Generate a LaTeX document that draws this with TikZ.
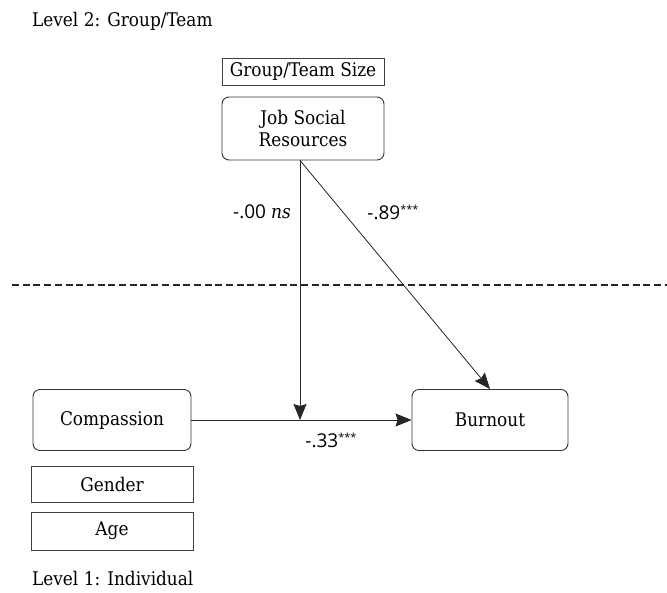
\documentclass[tikz,border=0pt]{standalone}
\usepackage{fontspec}
\setmainfont{DejaVu Serif Condensed}
\newfontfamily\numfont{Open Sans}
\usetikzlibrary{arrows.meta}
\newcommand{\sig}[1]{\raisebox{6pt}{\fontsize{11}{12}\selectfont #1}}
\begin{document}
\begin{tikzpicture}[x=1pt,y=-1pt,
  every node/.style={font=\fontsize{18.8}{22}\selectfont, inner sep=0pt},
  rbox/.style={draw=black!80, line width=0.9pt, rounded corners=7pt, align=center},
  sbox/.style={draw=black!75, line width=0.9pt},
  conn/.style={draw=black!85, line width=0.8pt, -{Stealth[length=16pt,width=13pt,inset=2pt]}},
  coef/.style={font=\numfont\fontsize{19}{22}\selectfont}]
  \useasboundingbox (0,0) rectangle (667,592);

  % level captions
  \node[anchor=west] (lv2) at (32,21) {Level 2: Group/Team};
  \node[anchor=west] (lv1) at (32,578) {Level 1: Individual};

  % level 2 variables
  \node[sbox, minimum width=162pt, minimum height=27pt] (size) at (303,71.5) {Group/Team Size};
  \node[rbox, minimum width=162pt, minimum height=63pt] (jsr) at (303,128.5) {Job Social\\Resources};

  % level separator
  \draw[black!85, line width=1.6pt, dash pattern=on 7pt off 3.7pt] (12,285) -- (667,285);

  % level 1 variables
  \node[rbox, minimum width=158pt, minimum height=61pt] (comp) at (112,420) {Compassion};
  \node[rbox, minimum width=156pt, minimum height=61pt] (burn) at (490,420) {Burnout};
  \node[sbox, minimum width=162pt, minimum height=36pt] (gender) at (112,484) {Gender};
  \node[sbox, minimum width=162pt, minimum height=38pt] (age) at (112,531) {Age};

  % paths
  \coordinate (mod) at (300,420);
  \draw[conn] (comp.east) -- (burn.west);
  \draw[conn] (jsr.south -| mod) -- (mod);
  \draw[conn] (jsr.south -| mod) -- (burn.north);

  % coefficients
  \node[coef] (c1) at (262,212) {-.00 \textit{\rmfamily ns}};
  \node[coef] (c2) at (393,212) {-.89\sig{***}};
  \node[coef] (c3) at (331,440) {-.33\sig{***}};
\end{tikzpicture}
\end{document}
